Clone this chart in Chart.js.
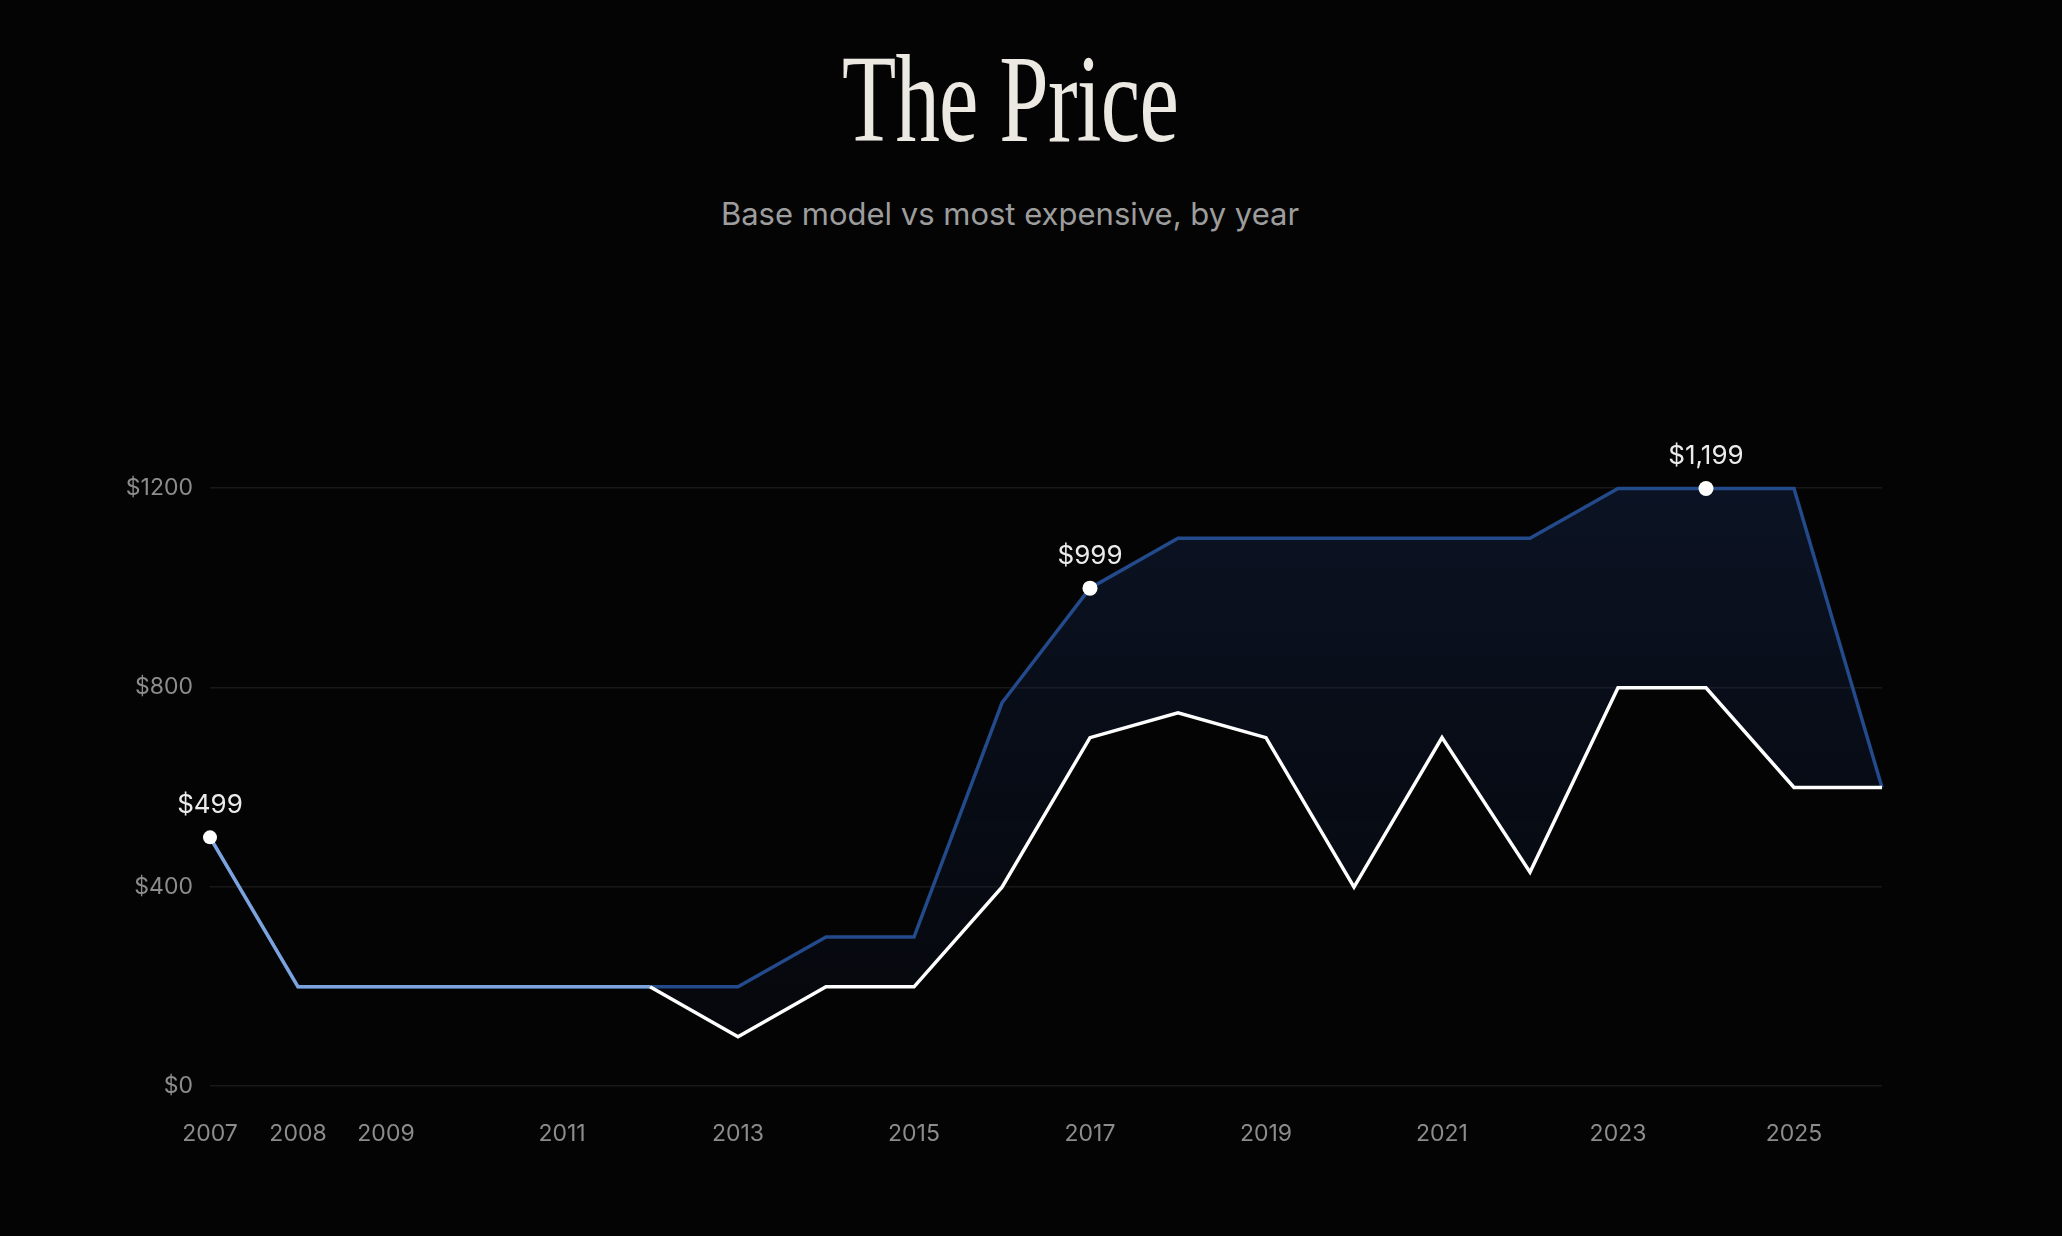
<!DOCTYPE html>
<html>
<head>
<meta charset="utf-8">
<script src="https://cdn.jsdelivr.net/npm/chart.js@4.4.1/dist/chart.umd.min.js"></script>
<style>
  html, body { margin: 0; padding: 0; background: #040404; }
  body { width: 2062px; height: 1236px; position: relative; overflow: hidden; }
  #title {
    position: absolute; left: 0; top: 37px; width: 2020px; margin: 0;
    text-align: center; font-family: "Liberation Serif", serif; font-weight: 400;
    font-size: 125px; line-height: 125px; color: #ece9e3;
    transform: scaleX(0.71); transform-origin: 1010px 0; letter-spacing: -1px;
  }
  #subtitle {
    position: absolute; left: 0; top: 198px; width: 2020px; margin: 0;
    text-align: center; font-family: Inter, sans-serif; font-size: 31px;
    line-height: 31px; color: #9d9d9d; font-weight: 400;
  }
  #wrap { position: absolute; left: 0; top: 0; width: 2062px; height: 1236px; }
</style>
</head>
<body>
<h1 id="title">The Price</h1>
<p id="subtitle">Base model vs most expensive, by year</p>
<div id="wrap"><canvas id="pricechart"></canvas></div>
<script>
var years = ["2007","2008","2009","2010","2011","2012","2013","2014","2015","2016",
             "2017","2018","2019","2020","2021","2022","2023","2024","2025","2026"];
var basePrice = [499, 199, 199, 199, 199, 199, 99, 199, 199, 399,
                 699, 749, 699, 399, 699, 429, 799, 799, 599, 599];
var topPrice = [499, 199, 199, 199, 199, 199, 199, 299, 299, 769,
                999, 1099, 1099, 1099, 1099, 1099, 1199, 1199, 1199, 599];
var shownYears = ["2007","2008","2009","2011","2013","2015","2017","2019","2021","2023","2025"];
var yTicks = [0, 400, 800, 1200];
// highlighted dots: [dataset index, point index]
var marked = [[0, 0], [1, 10], [1, 17]];

function isMarked(ds, i) {
    for (var k = 0; k < marked.length; k++) {
        if (marked[k][0] === ds && marked[k][1] === i) return true;
    }
    return false;
}

function money(v) {
    return '$' + v.toLocaleString('en-US');
}

// labels over the highlighted dots
var dotLabels = {
    id: 'dotLabels',
    afterDatasetsDraw: function(chart) {
        var ctx = chart.ctx;
        ctx.save();
        ctx.font = '400 26px Inter, sans-serif';
        ctx.fillStyle = '#ebebeb';
        ctx.textAlign = 'center';
        ctx.textBaseline = 'alphabetic';
        marked.forEach(function(m) {
            var pt = chart.getDatasetMeta(m[0]).data[m[1]];
            var v = chart.data.datasets[m[0]].data[m[1]];
            ctx.fillText(money(v), pt.x, pt.y - 24);
        });
        ctx.restore();
    }
};

var ctx = document.getElementById('pricechart').getContext('2d');
var chart = new Chart(ctx, {
    type: 'line',
    data: {
        labels: years,
        datasets: [{
            label: 'Base model',
            data: basePrice,
            borderColor: '#ffffff',
            borderWidth: 3.5,
            fill: false,
            tension: 0,
            clip: false,
            pointRadius: function(c) { return isMarked(0, c.dataIndex) ? 7 : 0; },
            pointBackgroundColor: '#ffffff',
            pointBorderWidth: 0,
            segment: {
                borderColor: function(c) {
                    var a = c.p0DataIndex, b = c.p1DataIndex;
                    if (basePrice[a] === topPrice[a] && basePrice[b] === topPrice[b]) return '#7ca3dc';
                    return '#ffffff';
                }
            }
        }, {
            label: 'Most expensive',
            data: topPrice,
            borderColor: '#234a8a',
            borderWidth: 3.5,
            tension: 0,
            clip: false,
            fill: '-1',
            backgroundColor: function(c) {
                var area = c.chart.chartArea;
                if (!area) return 'rgba(20,35,70,0.3)';
                var g = c.chart.ctx.createLinearGradient(0, area.top, 0, area.bottom);
                g.addColorStop(0, 'rgba(22,40,80,0.42)');
                g.addColorStop(1, 'rgba(16,30,60,0.12)');
                return g;
            },
            pointRadius: function(c) { return isMarked(1, c.dataIndex) ? 7.5 : 0; },
            pointBackgroundColor: '#ffffff',
            pointBorderWidth: 0
        }]
    },
    options: {
        responsive: true,
        maintainAspectRatio: false,
        animation: false,
        layout: { padding: { top: 488, left: 0, right: 180, bottom: 90 } },
        plugins: {
            legend: { display: false },
            tooltip: { enabled: false },
            title: { display: false }
        },
        scales: {
            x: {
                grid: { display: false, drawTicks: false },
                border: { display: false },
                afterFit: function(s) { s.height = 60; },
                ticks: {
                    autoSkip: false,
                    maxRotation: 0,
                    padding: 34,
                    color: '#8c8c8c',
                    font: { family: 'Inter, sans-serif', size: 23 },
                    callback: function(v, i) {
                        var y = years[i];
                        return shownYears.indexOf(y) >= 0 ? y : '';
                    }
                }
            },
            y: {
                min: 0,
                max: 1200,
                afterFit: function(s) { s.width = 210; },
                afterBuildTicks: function(s) {
                    s.ticks = yTicks.map(function(v) { return { value: v }; });
                },
                grid: { color: '#181818', lineWidth: 1.5, drawTicks: false },
                border: { display: false },
                ticks: {
                    padding: 17,
                    color: '#8c8c8c',
                    font: { family: 'Inter, sans-serif', size: 23 },
                    callback: function(v) { return '$' + v; }
                }
            }
        }
    },
    plugins: [dotLabels]
});
</script>
</body>
</html>
